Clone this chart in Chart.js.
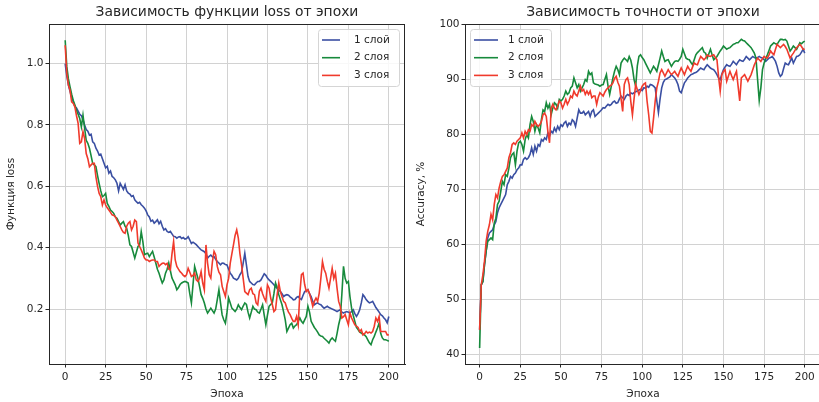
<!DOCTYPE html>
<html><head><meta charset="utf-8">
<script src="https://cdn.jsdelivr.net/npm/chart.js@4/dist/chart.umd.min.js"></script>
<style>
html,body{margin:0;padding:0;background:#fff;overflow:hidden;width:819px;height:402px;}
#c1{position:absolute;left:0;top:0;}
#c2{position:absolute;left:410px;top:0;}
</style></head><body>
<canvas id="c1" width="410" height="402" style="width:410px;height:402px"></canvas>
<canvas id="c2" width="420" height="402" style="width:420px;height:402px"></canvas>
<script>
// ---- data ----
const seriesNames = ['1 слой', '2 слоя', '3 слоя'];
const xTicks = [0, 25, 50, 75, 100, 125, 150, 175, 200];
const lossTicks = [0.2, 0.4, 0.6, 0.8, 1.0];
const accTicks = [40, 50, 60, 70, 80, 90, 100];
const epochs = Array.from({length: 201}, (_, i) => i);

const loss1 = [1.00,0.96,0.93,0.91,0.89,0.875,0.86,0.855,0.845,0.835,0.83,0.818,0.80,0.785,0.78,0.767,0.77,0.745,0.74,0.724,
0.715,0.702,0.705,0.69,0.675,0.66,0.665,0.643,0.65,0.632,0.628,0.621,0.61,0.585,0.61,0.60,0.59,0.605,0.585,0.578,
0.575,0.567,0.57,0.556,0.55,0.545,0.548,0.54,0.535,0.529,0.52,0.507,0.50,0.486,0.49,0.48,0.485,0.491,0.478,0.486,
0.47,0.458,0.462,0.453,0.45,0.453,0.445,0.437,0.436,0.431,0.435,0.436,0.43,0.433,0.428,0.43,0.436,0.425,0.414,0.418,
0.414,0.41,0.404,0.398,0.393,0.39,0.387,0.38,0.366,0.372,0.376,0.37,0.371,0.362,0.355,0.35,0.344,0.35,0.349,0.345,
0.344,0.33,0.317,0.31,0.301,0.298,0.295,0.30,0.312,0.32,0.35,0.382,0.344,0.306,0.29,0.285,0.28,0.279,0.285,0.29,
0.29,0.295,0.305,0.315,0.31,0.301,0.295,0.29,0.285,0.279,0.272,0.268,0.262,0.257,0.25,0.241,0.245,0.247,0.245,0.24,
0.236,0.23,0.231,0.238,0.241,0.235,0.231,0.245,0.257,0.26,0.263,0.25,0.241,0.225,0.214,0.218,0.22,0.216,0.214,0.208,
0.203,0.206,0.209,0.205,0.203,0.20,0.198,0.195,0.192,0.195,0.198,0.19,0.187,0.19,0.192,0.19,0.187,0.192,0.198,0.185,
0.176,0.185,0.198,0.22,0.247,0.24,0.231,0.225,0.22,0.222,0.225,0.215,0.205,0.198,0.19,0.182,0.178,0.171,0.165,0.155,0.176];

const loss2 = [1.076,0.99,0.95,0.924,0.90,0.88,0.865,0.848,0.835,0.821,0.794,0.832,0.79,0.75,0.74,0.724,0.70,0.675,0.67,0.664,
0.635,0.609,0.585,0.566,0.57,0.577,0.544,0.535,0.523,0.518,0.512,0.50,0.496,0.485,0.474,0.48,0.485,0.47,0.463,0.44,
0.409,0.404,0.385,0.366,0.385,0.404,0.409,0.452,0.42,0.377,0.38,0.382,0.371,0.38,0.388,0.37,0.35,0.33,0.317,0.30,
0.285,0.295,0.317,0.33,0.35,0.325,0.301,0.29,0.279,0.263,0.27,0.28,0.285,0.288,0.29,0.288,0.285,0.25,0.22,0.28,
0.339,0.32,0.301,0.275,0.247,0.235,0.22,0.20,0.187,0.195,0.203,0.195,0.187,0.20,0.231,0.263,0.22,0.181,0.165,0.154,
0.19,0.236,0.22,0.203,0.198,0.192,0.20,0.214,0.205,0.198,0.21,0.22,0.215,0.19,0.171,0.19,0.209,0.20,0.198,0.19,
0.187,0.20,0.214,0.18,0.149,0.18,0.209,0.215,0.22,0.25,0.285,0.27,0.247,0.23,0.214,0.19,0.165,0.127,0.138,0.149,
0.154,0.138,0.145,0.149,0.16,0.171,0.16,0.154,0.165,0.176,0.209,0.19,0.16,0.15,0.14,0.133,0.125,0.116,0.112,0.111,
0.105,0.10,0.095,0.089,0.10,0.106,0.10,0.095,0.12,0.149,0.171,0.25,0.339,0.30,0.285,0.29,0.24,0.203,0.18,0.16,
0.14,0.133,0.125,0.122,0.118,0.116,0.11,0.10,0.09,0.084,0.10,0.111,0.125,0.138,0.154,0.12,0.106,0.10,0.10,0.098,0.095];

const loss3 = [1.06,0.968,0.93,0.913,0.875,0.87,0.859,0.83,0.805,0.74,0.745,0.778,0.756,0.707,0.69,0.664,0.67,0.675,0.675,0.631,
0.60,0.577,0.566,0.539,0.556,0.539,0.53,0.523,0.515,0.507,0.505,0.501,0.49,0.48,0.469,0.458,0.45,0.447,0.47,0.48,
0.485,0.458,0.47,0.49,0.485,0.415,0.404,0.393,0.38,0.366,0.36,0.36,0.355,0.358,0.36,0.36,0.355,0.355,0.339,0.345,
0.349,0.35,0.345,0.349,0.33,0.328,0.38,0.42,0.36,0.339,0.33,0.322,0.317,0.31,0.306,0.312,0.333,0.32,0.306,0.31,
0.317,0.295,0.29,0.30,0.322,0.285,0.263,0.409,0.35,0.312,0.301,0.355,0.388,0.377,0.339,0.32,0.312,0.274,0.257,0.241,
0.279,0.30,0.35,0.38,0.409,0.44,0.458,0.431,0.38,0.344,0.30,0.257,0.252,0.247,0.263,0.268,0.25,0.247,0.22,0.214,
0.258,0.268,0.25,0.236,0.225,0.279,0.268,0.236,0.215,0.192,0.198,0.247,0.285,0.257,0.24,0.225,0.22,0.203,0.19,0.182,
0.17,0.16,0.16,0.176,0.149,0.25,0.312,0.317,0.28,0.257,0.263,0.25,0.231,0.209,0.225,0.236,0.225,0.252,0.30,0.355,
0.33,0.317,0.29,0.268,0.30,0.333,0.30,0.317,0.268,0.225,0.209,0.171,0.175,0.182,0.165,0.149,0.187,0.171,0.16,0.149,
0.144,0.14,0.127,0.133,0.116,0.12,0.127,0.122,0.125,0.122,0.127,0.144,0.171,0.16,0.176,0.127,0.127,0.127,0.127,0.116,0.116];

const acc1 = [44.5,52.7,53.3,56.4,58.8,61.2,62.1,62.4,62.7,63.6,64.2,65.8,66.7,67.3,67.9,68.5,69.1,70.9,71.5,72.4,
72.1,72.7,73.0,73.6,73.9,74.5,74.5,75.5,75.8,75.5,75.8,76.4,77.6,76.4,77.9,77.0,78.2,77.9,79.1,78.8,
79.4,79.1,80.3,79.7,80.6,80.3,81.2,80.6,81.5,80.9,81.8,81.5,82.1,82.4,81.5,82.1,81.8,82.7,82.4,81.5,
83.0,84.5,83.9,83.9,84.2,83.6,83.9,84.2,83.3,84.2,84.5,83.3,83.6,83.9,84.2,84.5,84.9,84.8,85.2,85.5,
85.3,85.5,85.9,86.1,85.7,85.8,86.5,87.0,86.7,86.4,87.0,87.3,87.1,87.6,87.4,87.6,87.8,87.9,88.1,88.2,
88.0,88.5,88.4,88.8,88.6,89.1,89.0,88.8,88.5,86.1,84.0,86.5,88.5,89.5,90.0,90.1,90.3,90.5,90.9,90.6,
90.3,89.8,89.1,87.9,87.6,88.5,89.4,89.8,90.3,90.6,90.9,91.0,91.2,91.3,91.5,91.8,92.1,91.9,91.8,92.3,
92.7,92.4,92.1,91.9,91.8,91.4,90.9,90.3,90.0,91.0,91.8,92.3,92.7,92.5,92.4,92.8,93.3,93.0,92.7,93.2,
93.6,93.4,93.3,93.7,94.2,93.9,93.6,93.9,94.2,94.0,93.9,94.0,94.2,94.0,93.9,93.6,93.3,93.6,93.9,94.0,
94.2,93.8,93.3,92.4,91.2,90.6,90.9,92.0,93.0,92.8,92.7,93.3,93.9,93.0,93.6,94.2,94.3,94.5,95.0,95.5,94.8];

const acc2 = [41.2,52.7,53.3,56.4,58.8,60.6,60.9,61.2,60.9,63.9,64.8,67.3,67.9,69.7,71.5,70.9,72.7,72.4,73.9,75.8,
76.4,76.7,74.5,77.0,78.5,78.8,78.2,77.0,79.1,80.0,79.4,81.8,83.3,82.4,80.6,81.8,81.2,80.3,82.7,84.5,
84.2,85.8,84.8,85.5,83.6,84.8,85.8,85.5,84.8,86.4,86.1,86.4,87.0,87.9,87.3,87.6,88.5,88.8,90.3,89.4,
88.5,89.1,87.9,88.5,89.1,90.0,89.7,91.5,90.9,91.2,89.4,89.2,89.1,89.0,88.8,89.0,89.1,90.0,90.9,88.8,
87.3,88.8,90.3,91.5,92.4,91.8,90.9,93.0,93.5,93.9,93.6,93.3,94.2,93.5,92.1,90.0,88.8,92.5,94.2,94.5,
94.0,93.6,93.0,92.4,91.8,91.2,91.8,92.4,92.0,91.5,92.7,93.9,95.2,94.2,93.3,93.5,93.6,93.0,92.4,92.9,
93.3,93.4,93.3,93.7,94.2,95.5,94.7,93.9,93.7,93.6,93.1,92.7,93.6,94.5,94.9,95.2,95.5,95.8,95.0,94.8,
93.9,94.7,95.5,94.5,93.6,93.9,94.2,94.7,95.2,95.6,96.1,95.8,95.5,95.7,95.8,96.1,96.4,96.5,96.7,96.7,
97.0,97.3,97.1,97.0,96.7,96.4,96.1,95.8,95.3,94.8,93.9,90.0,86.2,88.5,91.8,93.0,93.8,94.5,95.3,96.1,
96.4,96.7,96.5,96.4,96.9,97.3,97.3,97.2,97.3,97.0,96.1,95.2,95.6,96.1,95.8,95.5,96.1,96.7,96.5,96.8,97.0];

const acc3 = [44.5,52.7,54.5,57.0,60.6,62.4,63.6,65.5,64.5,67.3,69.1,68.5,70.3,71.5,72.4,72.7,73.3,73.9,75.8,76.7,
78.2,78.5,78.2,78.8,79.1,79.4,80.3,79.4,80.6,80.0,80.9,80.6,81.8,81.5,82.4,81.8,81.5,81.8,82.4,83.6,
83.9,83.3,80.5,78.5,84.8,85.5,84.8,84.5,85.2,86.1,85.8,84.8,85.5,86.4,85.5,86.1,87.0,86.7,87.9,87.3,
87.0,87.9,88.8,87.9,88.2,87.3,87.9,87.3,87.9,86.7,87.0,87.0,85.5,86.8,87.6,87.3,87.0,87.7,88.2,88.5,
88.8,89.0,89.4,90.2,90.6,89.5,88.8,86.5,84.2,89.1,90.0,90.3,89.1,86.0,83.6,86.5,89.1,88.2,87.3,88.0,
88.8,89.2,89.4,86.1,83.6,80.6,80.3,83.0,86.1,88.5,89.7,91.2,91.8,91.2,90.6,91.2,91.8,91.3,90.9,91.2,
91.5,91.0,90.6,91.4,92.1,91.5,90.9,91.7,92.4,91.9,91.5,92.3,93.0,92.8,92.7,93.5,94.2,93.9,93.6,93.9,
94.5,94.3,94.2,94.4,94.5,94.0,93.6,90.5,87.9,90.9,91.5,91.8,89.7,90.6,91.5,90.7,90.0,90.8,91.5,88.8,
86.1,90.3,90.6,90.9,90.3,89.7,90.3,90.9,91.8,92.7,93.3,93.9,93.6,93.3,93.8,94.2,94.0,93.9,94.5,95.2,
94.8,94.5,95.5,96.4,96.1,95.8,96.1,96.4,96.0,95.5,94.7,93.9,94.4,94.8,95.3,95.8,96.1,96.4,96.0,95.5,95.5];

// ---- styling ----
const COLORS = ['#3a4fa2', '#178a3c', '#f03a2c'];
const FONT = '"DejaVu Sans", "Liberation Sans", sans-serif';
const TXT = '#262626';

const framePlugin = {
  id: 'frame',
  afterDraw(chart) {
    const {ctx, chartArea: a} = chart;
    const L = Math.round(a.left), T = Math.round(a.top), R = Math.round(a.right), B = Math.round(a.bottom);
    ctx.save();
    ctx.strokeStyle = '#262626';
    ctx.lineWidth = 1;
    ctx.beginPath();
    ctx.moveTo(L, T + 0.5);
    ctx.lineTo(R, T + 0.5);
    ctx.moveTo(R - 0.5, T);
    ctx.lineTo(R - 0.5, B + 1);
    ctx.stroke();
    ctx.restore();
  }
};

const boxLegend = {
  id: 'boxLegend',
  afterDraw(chart, args, o) {
    const ctx = chart.ctx;
    ctx.save();
    const r = 3;
    ctx.beginPath();
    ctx.moveTo(o.x + r, o.y);
    ctx.arcTo(o.x + o.w, o.y, o.x + o.w, o.y + o.h, r);
    ctx.arcTo(o.x + o.w, o.y + o.h, o.x, o.y + o.h, r);
    ctx.arcTo(o.x, o.y + o.h, o.x, o.y, r);
    ctx.arcTo(o.x, o.y, o.x + o.w, o.y, r);
    ctx.closePath();
    ctx.fillStyle = 'rgba(255,255,255,0.85)';
    ctx.fill();
    ctx.strokeStyle = '#d5d5d5';
    ctx.lineWidth = 1;
    ctx.stroke();
    ctx.font = '10.5px ' + FONT;
    ctx.textBaseline = 'middle';
    ctx.textAlign = 'left';
    chart.data.datasets.forEach((ds, i) => {
      const yy = o.row0 + i * o.rowGap;
      ctx.strokeStyle = ds.borderColor;
      ctx.lineWidth = 1.6;
      ctx.beginPath();
      ctx.moveTo(o.lx0, yy);
      ctx.lineTo(o.lx1, yy);
      ctx.stroke();
      ctx.fillStyle = TXT;
      ctx.fillText(ds.label, o.tx, yy);
    });
    ctx.restore();
  }
};

function buildDatasets(arrs) {
  return arrs.map((arr, i) => ({
    label: seriesNames[i],
    data: arr.map((v, j) => ({x: epochs[j], y: v})),
    borderColor: COLORS[i],
    backgroundColor: COLORS[i],
    borderWidth: 1.6,
    pointRadius: 0,
    tension: 0,
    fill: false,
    order: 3 - i
  }));
}

function makeChart(id, cfg) {
  const tickFont = {family: FONT, size: 10.5};
  return new Chart(document.getElementById(id), {
    type: 'line',
    data: {datasets: buildDatasets(cfg.arrs)},
    options: {
      responsive: false,
      animation: false,
      devicePixelRatio: 1,
      layout: {padding: {left: 0, right: cfg.padRight, top: 0, bottom: 0}},
      plugins: {
        legend: {display: false},
        tooltip: {enabled: false},
        title: {
          display: true, text: cfg.title, fullSize: false, color: TXT,
          font: {family: FONT, size: 13.9, weight: 'normal', lineHeight: 1.2},
          padding: {top: 4.5, bottom: 2.82}
        },
        boxLegend: cfg.legend
      },
      scales: {
        x: {
          type: 'linear', min: cfg.xMin, max: 210,
          afterBuildTicks: s => { s.ticks = xTicks.map(v => ({value: v})); },
          afterFit: s => { s.height = 38; },
          ticks: {font: tickFont, color: TXT, padding: 3.5, maxRotation: 0, autoSkip: false, callback: v => String(v)},
          grid: {color: '#d2d2d2', lineWidth: 1, tickColor: '#262626', tickLength: 3.5},
          border: {color: '#262626', width: 1},
          title: {display: true, text: 'Эпоха', color: TXT, font: {family: FONT, size: 10.5, lineHeight: 1.2}, padding: {top: 0, bottom: 1.7}}
        },
        y: {
          type: 'linear', min: cfg.yMin, max: cfg.yMax,
          afterBuildTicks: s => { s.ticks = cfg.yTicks.map(v => ({value: v})); },
          afterFit: s => { s.width = cfg.yWidth; },
          ticks: {font: tickFont, color: TXT, padding: 2, autoSkip: false, callback: cfg.yFmt},
          grid: {color: '#d2d2d2', lineWidth: 1, tickColor: '#262626', tickLength: 3.5},
          border: {color: '#262626', width: 1},
          title: {display: true, text: cfg.yTitle, color: TXT, font: {family: FONT, size: 10.5, lineHeight: 1.2}, padding: {top: 5.4, bottom: 0}}
        }
      }
    },
    plugins: [framePlugin, boxLegend]
  });
}

makeChart('c1', {
  arrs: [loss1, loss2, loss3],
  title: 'Зависимость функции loss от эпохи',
  yTitle: 'Функция loss',
  yMin: 0.021, yMax: 1.129, yTicks: lossTicks, yFmt: v => Number(v).toFixed(1),
  xMin: -10, yWidth: 49, padRight: 5,
  legend: {x: 318.5, y: 29.5, w: 81, h: 57, lx0: 322, lx1: 340, tx: 354, row0: 40, rowGap: 17.7}
});

makeChart('c2', {
  arrs: [acc1, acc2, acc3],
  title: 'Зависимость точности от эпохи',
  yTitle: 'Accuracy, %',
  yMin: 38.3, yMax: 100.1, yTicks: accTicks, yFmt: v => String(v),
  xMin: -9, yWidth: 55, padRight: 9,
  legend: {x: 60.5, y: 29.5, w: 81, h: 57, lx0: 64, lx1: 88, tx: 98, row0: 40, rowGap: 17.7}
});
</script>
</body></html>
